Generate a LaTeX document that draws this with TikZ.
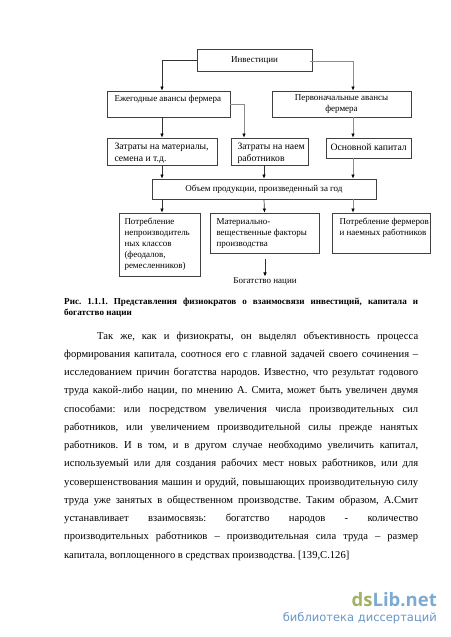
\documentclass[tikz,border=0pt]{standalone}
\usepackage{fontspec}
\setmainfont{Liberation Serif}
\setsansfont{DejaVu Sans}
\newfontfamily\markfont{Open Sans}
\usetikzlibrary{arrows.meta,calc}

% text inside a box: left inset, top inset, width, height, text
\newcommand{\boxbody}[5]{\parbox[c][#4][t]{#3}{\raggedright\leftskip=#1\hyphenpenalty=10000 \vspace*{#2}#5}}

\begin{document}
\begin{tikzpicture}[
  x=1pt, y=-1pt,
  box/.style={
      draw=black!75,
      line width=0.8pt,
      inner sep=0pt,
      font=\fontsize{9}{11}\selectfont
    },
  wide box/.style={
      box,
      font=\fontsize{9.7}{11.5}\selectfont
    },
  center box/.style={
      box,
      align=center
    },
  arrow/.style={
      arrows = {-Latex[black,length=4pt,width=3.5pt]},
      draw=black!80,
      line width=0.7pt
    },
  pale arrow/.style={
      arrow,
      draw=black!45
    },
  body line/.style={
      anchor=base west,
      inner sep=0pt,
      font=\fontsize{10.6}{12}\selectfont\frenchspacing
    },
  caption line/.style={
      anchor=base west,
      inner sep=0pt,
      font=\fontsize{9.1}{10}\selectfont\bfseries\frenchspacing
    }]
  \fill [white] (0,0) rectangle (450,637);
  \useasboundingbox (0,0) rectangle (450,637);

  \node [center box, minimum width=115pt, minimum height=22pt] (invest) at (254.5,60) {Инвестиции};

  \node [box, minimum width=123pt, minimum height=26pt] (yearly) at (168.5,104) {\boxbody{7pt}{4pt}{122pt}{25pt}{Ежегодные авансы фермера}};
  \node [center box, minimum width=139pt, minimum height=26pt] (initial) at (341.5,104) {Первоначальные авансы\\фермера};

  \node [wide box, minimum width=110pt, minimum height=27pt] (material) at (162,151.5) {\boxbody{7pt}{5pt}{109pt}{26pt}{Затраты на материалы, семена и т.д.}};
  \node [wide box, minimum width=77pt, minimum height=27pt] (hire) at (269.5,151.5) {\boxbody{6pt}{5pt}{76pt}{26pt}{Затраты на наем работников}};
  \node [wide box, minimum width=85pt, minimum height=20pt] (fixed) at (368.5,148) {\boxbody{4pt}{5pt}{84pt}{19pt}{Основной капитал}};

  \node [center box, minimum width=224pt, minimum height=20pt] (output) at (264,189) {Объем продукции, произведенный за год};

  \node [box, minimum width=81pt, minimum height=63pt] (classes) at (159.5,244.5) {\boxbody{5pt}{5pt}{80pt}{62pt}{Потребление\\непроизводитель\\ных классов\\(феодалов,\\ремесленников)}};
  \node [box, minimum width=109pt, minimum height=40pt] (factors) at (264.5,233) {\boxbody{6pt}{5pt}{108pt}{39pt}{Материально-\\вещественные факторы\\производства}};
  \node [box, minimum width=98pt, minimum height=40pt] (farmers) at (381,233) {\boxbody{7pt}{5pt}{97pt}{39pt}{Потребление фермеров\\и наемных работников}};

  \coordinate (wealth start) at (265,259);
  \node [font=\fontsize{9}{11}\selectfont, inner sep=0pt] (wealth) at (265,281) {Богатство нации};

  \draw [arrow] (invest.west) -| ($(yearly.north) + (-6.5,0)$);
  \draw [pale arrow] (310,61) -| ($(initial.north) + (11.5,0)$);
  \draw [arrow] ($(yearly.south) + (-6.5,0)$) -- (material.north);
  \draw [pale arrow] (yearly.east) -| ($(hire.north) + (-25.5,0)$);
  \draw [pale arrow] ($(initial.south) + (11.5,0)$) -- ($(fixed.north) + (-15.5,0)$);
  \draw [arrow] (material.south) -- ($(output.north) + (-102,0)$);
  \draw [arrow] ($(hire.south) + (-5.5,0)$) -- (output.north);
  \draw [pale arrow] ($(fixed.south) + (-15.5,0)$) -- ($(output.north) + (89,0)$);
  \draw [arrow] ($(output.south) + (-102,0)$) -- ($(classes.north) + (2.5,0)$);
  \draw [arrow] (output.south) -- (factors.north);
  \draw [pale arrow] ($(output.south) + (89,0)$) -- ($(farmers.north) + (-28,0)$);
  \draw [arrow] (wealth start) -- ($(wealth.north) + (0,-0.5)$);

  % caption
  \node [caption line] (caption a) at (64,304) {\makebox[354pt][s]{Рис. 1.1.1. Представления физиократов о взаимосвязи инвестиций, капитала и}};
  \node [caption line] (caption b) at (64,315) {богатство нации};

  % page text
  \node [body line] (line a) at (97,339) {\makebox[321pt][s]{Так же, как и физиократы, он выделял объективность процесса}};
  \foreach \row/\txt in {
    1/{формирования капитала, соотнося его с главной задачей своего сочинения –},
    2/{исследованием причин богатства народов. Известно, что результат годового},
    3/{труда какой-либо нации, по мнению А. Смита, может быть увеличен двумя},
    4/{способами: или посредством увеличения числа производительных сил},
    5/{работников, или увеличением производительной силы прежде нанятых},
    6/{работников. И в том, и в другом случае необходимо увеличить капитал,},
    7/{используемый или для создания рабочих мест новых работников, или для},
    8/{усовершенствования машин и орудий, повышающих производительную силу},
    9/{труда уже занятых в общественном производстве. Таким образом, А.Смит},
    10/{устанавливает взаимосвязь: богатство народов - количество},
    11/{производительных работников – производительная сила труда – размер}}
    \node [body line] (line \row) at (64,339+18.27*\row) {\makebox[354pt][s]{\txt}};
  \node [body line] (line z) at (64,558.2) {капитала, воплощенного в средствах производства. [139,С.126]};

  % watermark
  \node [anchor=base east, inner sep=0pt, font=\fontsize{18.5}{20}\selectfont\markfont\bfseries] (mark) at (437,606) {\textcolor[RGB]{160,178,100}{ds}\textcolor[RGB]{125,170,210}{Lib.net}};
  \node [anchor=base east, inner sep=0pt, text={rgb,255:red,105;green,150;blue,200}, font=\fontsize{11.5}{13}\selectfont\sffamily] (mark text) at (437,621) {библиотека диссертаций};
\end{tikzpicture}
\end{document}
